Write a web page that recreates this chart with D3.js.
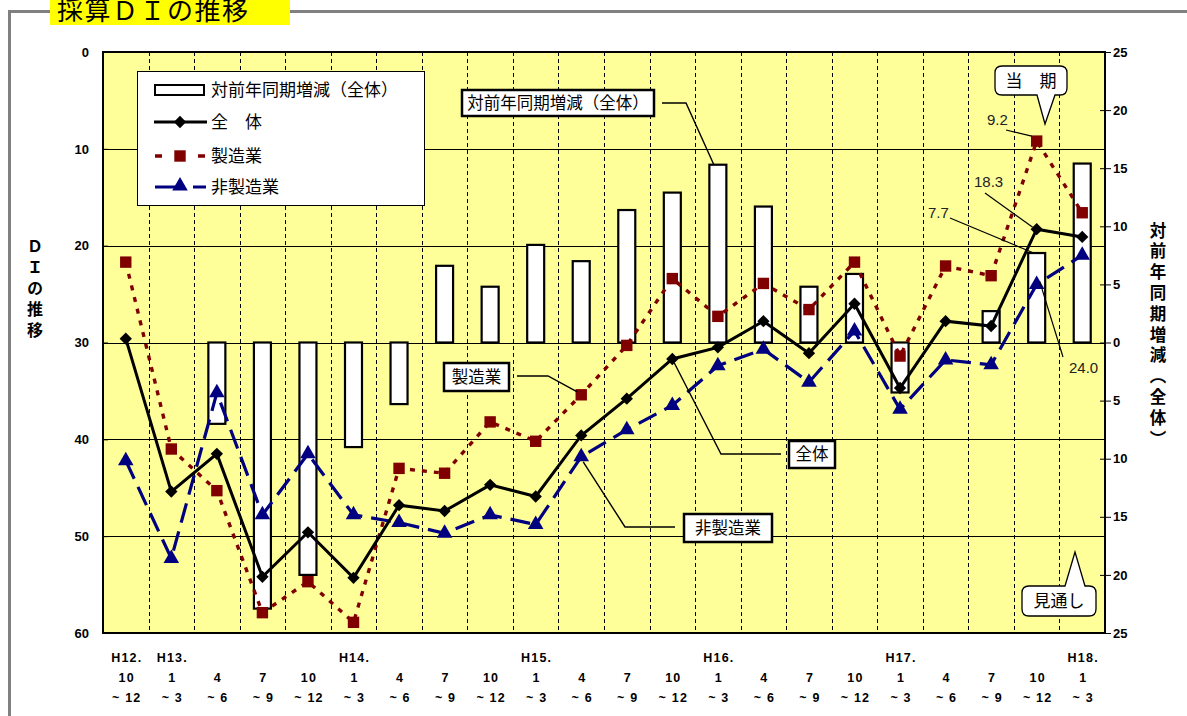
<!DOCTYPE html>
<html>
<head>
<meta charset="utf-8">
<script src="https://cdn.jsdelivr.net/npm/d3@7"></script>
<style>
  body { margin: 0; background: #fff; }
  svg { display: block; }
</style>
</head>
<body>
<svg id="chart" width="1187" height="716"></svg>
<script>
// Quarterly periods (H12.10-12 .. H18.1-3)
const yearLabels  = ["H12.","H13.","","","","H14.","","","","H15.","","","","H16.","","","","H17.","","","","H18."];
const monthLabels = ["10","1","4","7","10","1","4","7","10","1","4","7","10","1","4","7","10","1","4","7","10","1"];
const rangeLabels = ["~ 12","~ 3","~ 6","~ 9","~ 12","~ 3","~ 6","~ 9","~ 12","~ 3","~ 6","~ 9","~ 12","~ 3","~ 6","~ 9","~ 12","~ 3","~ 6","~ 9","~ 12","~ 3"];

// DI series (left axis, inverted scale)
const overall          = [29.6,45.4,41.5,54.2,49.6,54.3,46.8,47.4,44.7,45.9,39.6,35.8,31.7,30.5,27.8,31.1,26.0,34.7,27.8,28.3,18.3,19.1];
const manufacturing    = [21.7,41.0,45.3,57.9,54.7,58.9,43.0,43.5,38.2,40.2,35.4,30.3,23.4,27.3,23.9,26.6,21.7,31.4,22.1,23.1,9.2,16.6];
const nonManufacturing = [42.2,52.3,35.2,47.8,41.5,47.8,48.6,49.7,47.8,48.8,41.8,39.0,36.5,32.4,30.7,34.1,28.8,36.9,31.8,32.3,24.0,21.0];

// Year-on-year change of the overall DI (right axis)
const yoyChange = [null,null,-7.0,-22.9,-20.0,-9.0,-5.3,6.6,4.8,8.4,7.0,11.4,12.9,15.3,11.7,4.8,5.9,-4.3,0.0,2.7,7.7,15.4];

// Axis ticks
const leftTicks  = [0,10,20,30,40,50,60];
const rightTicks = [25,20,15,10,5,0,-5,-10,-15,-20,-25];

const svg = d3.select("#chart");
const plot = { left: 103, right: 1105, top: 52, bottom: 633 };
const latin = "'Liberation Sans', Arial, sans-serif";
const cjk = "'Noto Sans CJK JP', 'Noto Sans', sans-serif";

const idx = d3.range(monthLabels.length);
const x = d3.scaleBand().domain(idx).range([plot.left, plot.right]).padding(0);
const cx = i => x(i) + x.bandwidth() / 2;
const yL = d3.scaleLinear().domain([0, 60]).range([plot.top, plot.bottom]);
const yR = d3.scaleLinear().domain([25, -25]).range([plot.top, plot.bottom]);

// ---- Outer frame and title ----
svg.append("line").attr("x1", 9.5).attr("x2", 9.5).attr("y1", 11).attr("y2", 716)
  .attr("stroke", "#808080").attr("stroke-width", 3);
svg.append("line").attr("x1", 8).attr("x2", 1187).attr("y1", 11.5).attr("y2", 11.5)
  .attr("stroke", "#808080").attr("stroke-width", 3);
svg.append("rect").attr("x", 50).attr("y", 0).attr("width", 240).attr("height", 25).attr("fill", "#ffff00");
svg.append("text").attr("x", 57).attr("y", 20).attr("font-family", cjk).attr("font-size", 26)
  .attr("letter-spacing", 1.5).attr("fill", "#000").text("採算ＤＩの推移");

// ---- Plot background and grid ----
svg.append("rect").attr("x", plot.left).attr("y", plot.top)
  .attr("width", plot.right - plot.left).attr("height", plot.bottom - plot.top).attr("fill", "#ffff99");

svg.append("g").selectAll("line").data(leftTicks.slice(1, -1)).join("line")
  .attr("x1", plot.left).attr("x2", plot.right)
  .attr("y1", d => Math.round(yL(d)) + 0.5).attr("y2", d => Math.round(yL(d)) + 0.5)
  .attr("stroke", "#000").attr("stroke-width", 1);

svg.append("g").selectAll("line").data(idx.slice(1)).join("line")
  .attr("x1", d => Math.round(x(d)) + 0.5).attr("x2", d => Math.round(x(d)) + 0.5)
  .attr("y1", plot.top).attr("y2", plot.bottom)
  .attr("stroke", "#000").attr("stroke-width", 1).attr("stroke-dasharray", "4,3");

// ---- Year-on-year bars ----
const barW = 17;
svg.append("g").selectAll("rect").data(idx.filter(i => yoyChange[i] !== null)).join("rect")
  .attr("x", i => cx(i) - barW / 2)
  .attr("y", i => Math.min(yR(yoyChange[i]), yR(0)))
  .attr("width", barW)
  .attr("height", i => Math.abs(yR(yoyChange[i]) - yR(0)))
  .attr("fill", "#fff").attr("stroke", "#000").attr("stroke-width", 2.2);

// ---- Lines ----
const line = d3.line().defined(d => d[1] !== null).x(d => cx(d[0])).y(d => yL(d[1]));
const series = [
  { data: nonManufacturing, color: "#000080", width: 3.2, dash: "20,9" },
  { data: manufacturing,    color: "#800000", width: 3.4, dash: "5,7" },
  { data: overall,          color: "#000000", width: 3,   dash: null }
];
series.forEach(s => {
  svg.append("path").datum(s.data.map((v, i) => [i, v]))
    .attr("d", line).attr("fill", "none")
    .attr("stroke", s.color).attr("stroke-width", s.width)
    .attr("stroke-dasharray", s.dash);
});

// ---- Markers ----
const diamond = d3.symbol().type(d3.symbolSquare).size(76);
const square = d3.symbol().type(d3.symbolSquare).size(130);
const tri = d3.symbol().type(d3.symbolTriangle).size(105);

svg.append("g").selectAll("path").data(idx).join("path")
  .attr("transform", i => `translate(${cx(i)},${yL(nonManufacturing[i])})`)
  .attr("d", tri).attr("fill", "#000080");
svg.append("g").selectAll("path").data(idx).join("path")
  .attr("transform", i => `translate(${cx(i)},${yL(manufacturing[i])})`)
  .attr("d", square).attr("fill", "#800000");
svg.append("g").selectAll("path").data(idx).join("path")
  .attr("transform", i => `translate(${cx(i)},${yL(overall[i])}) rotate(45)`)
  .attr("d", diamond).attr("fill", "#000");

// ---- Plot border ----
svg.append("rect").attr("x", plot.left).attr("y", plot.top)
  .attr("width", plot.right - plot.left).attr("height", plot.bottom - plot.top)
  .attr("fill", "none").attr("stroke", "#000").attr("stroke-width", 2);

// ---- Axes ----
const leftAxis = svg.append("g").attr("transform", `translate(${plot.left},0)`)
  .call(d3.axisRight(yL).tickValues(leftTicks).tickSize(5).tickFormat(""));
leftAxis.select(".domain").remove();
leftAxis.selectAll("line").attr("stroke", "#000");
svg.append("g").selectAll("text").data(leftTicks).join("text")
  .attr("x", 89).attr("y", d => yL(d)).attr("dy", "0.36em")
  .attr("text-anchor", "end").attr("font-family", latin).attr("font-weight", "bold")
  .attr("font-size", 13).text(d => d);

const rightAxis = svg.append("g").attr("transform", `translate(${plot.right - 5},0)`)
  .call(d3.axisRight(yR).tickValues(rightTicks).tickSize(11).tickFormat(""));
rightAxis.select(".domain").remove();
rightAxis.selectAll("line").attr("stroke", "#000");
svg.append("g").selectAll("text").data(rightTicks).join("text")
  .attr("x", 1113).attr("y", d => yR(d)).attr("dy", "0.36em")
  .attr("font-family", latin).attr("font-weight", "bold")
  .attr("font-size", 13).text(d => Math.abs(d));

// Category labels
const xl = svg.append("g").attr("font-family", latin).attr("font-weight", "bold")
  .attr("font-size", 12.5).attr("text-anchor", "middle").attr("letter-spacing", 1.2);
xl.selectAll(".yr").data(idx).join("text").attr("x", i => cx(i) + 1).attr("y", 662).text(i => yearLabels[i]);
xl.selectAll(".mo").data(idx).join("text").attr("x", i => cx(i) + 1).attr("y", 682).text(i => monthLabels[i]);
xl.selectAll(".rg").data(idx).join("text").attr("x", i => cx(i) + 1).attr("y", 702).text(i => rangeLabels[i]);

// Vertical axis titles (vertical writing mode)
svg.append("text").attr("x", 35).attr("y", 238)
  .style("writing-mode", "vertical-rl").attr("font-family", cjk).attr("font-weight", "bold")
  .attr("font-size", 16).attr("letter-spacing", 5).text("ＤＩの推移");
svg.append("text").attr("x", 1158).attr("y", 222)
  .style("writing-mode", "vertical-rl").attr("font-family", cjk).attr("font-weight", "bold")
  .attr("font-size", 16.5).attr("letter-spacing", 4.3).text("対前年同期増減（全体）");

// ---- Series callouts ----
function labelBox(x0, y0, w, h, text) {
  svg.append("rect").attr("x", x0).attr("y", y0).attr("width", w).attr("height", h)
    .attr("fill", "#fff").attr("stroke", "#000").attr("stroke-width", 2.5);
  svg.append("text").attr("x", x0 + w / 2).attr("y", y0 + h / 2).attr("dy", "0.36em")
    .attr("text-anchor", "middle").attr("font-family", cjk).attr("font-size", 16.5).text(text);
}
function leader(points, w) {
  svg.append("path").attr("d", d3.line()(points)).attr("fill", "none")
    .attr("stroke", "#000").attr("stroke-width", w || 1.4);
}

leader([[662, 103], [686, 103], [cx(13) - 4, yR(yoyChange[13])]]);
labelBox(462, 90, 192, 26, "対前年同期増減（全体）");

leader([[517, 376], [548, 376], [cx(10) - 4, yL(manufacturing[10]) - 3]]);
labelBox(444, 363, 65, 28, "製造業");

leader([[781, 454], [721, 454], [cx(12) + 2, yL(overall[12]) + 4]]);
labelBox(789, 441, 46, 27, "全体");

leader([[675, 527], [625, 527], [cx(10) + 2, yL(nonManufacturing[10]) + 5]]);
labelBox(684, 514, 88, 28, "非製造業");

// ---- Value labels for the latest quarter ----
const vl = svg.append("g").attr("font-family", latin).attr("font-size", 15).attr("fill", "#222");
vl.append("text").attr("x", 987).attr("y", 125).text(manufacturing[20].toFixed(1));
leader([[1006, 130], [cx(20) - 5, yL(manufacturing[20]) - 5]], 1.2);
vl.append("text").attr("x", 974).attr("y", 187).text(overall[20].toFixed(1));
leader([[985, 193], [cx(20) - 4, yL(overall[20]) - 2]], 1.2);
vl.append("text").attr("x", 928).attr("y", 218).text(yoyChange[20].toFixed(1));
leader([[950, 218], [cx(20) - 3, yR(yoyChange[20])]], 1.2);
vl.append("text").attr("x", 1069).attr("y", 373).text(nonManufacturing[20].toFixed(1));
leader([[1063, 357], [cx(20) + 3, yL(nonManufacturing[20]) - 3]], 1.2);

// ---- Speech bubbles ----
function bubble(x0, y0, w, h, r, tip, baseL, baseR, text) {
  const up = tip[1] < y0;
  const p = d3.path();
  p.moveTo(x0 + r, y0);
  if (up) { p.lineTo(baseL, y0); p.lineTo(tip[0], tip[1]); p.lineTo(baseR, y0); }
  p.lineTo(x0 + w - r, y0); p.quadraticCurveTo(x0 + w, y0, x0 + w, y0 + r);
  p.lineTo(x0 + w, y0 + h - r); p.quadraticCurveTo(x0 + w, y0 + h, x0 + w - r, y0 + h);
  if (!up) { p.lineTo(baseR, y0 + h); p.lineTo(tip[0], tip[1]); p.lineTo(baseL, y0 + h); }
  p.lineTo(x0 + r, y0 + h); p.quadraticCurveTo(x0, y0 + h, x0, y0 + h - r);
  p.lineTo(x0, y0 + r); p.quadraticCurveTo(x0, y0, x0 + r, y0);
  p.closePath();
  svg.append("path").attr("d", p.toString()).attr("fill", "#fff").attr("stroke", "#000").attr("stroke-width", 1.3);
  svg.append("text").attr("x", x0 + w / 2).attr("y", y0 + h / 2).attr("dy", "0.36em")
    .attr("text-anchor", "middle").attr("font-family", cjk).attr("font-size", 17).text(text);
}
bubble(995, 66, 72, 29, 7, [1045, 124], 1037, 1055, "当　期");
bubble(1022, 586, 74, 30, 7, [1075, 552], 1065, 1085, "見通し");

// ---- Legend ----
const lg = svg.append("g");
lg.append("rect").attr("x", 137.5).attr("y", 71.5).attr("width", 287).attr("height", 134)
  .attr("fill", "#fff").attr("stroke", "#000").attr("stroke-width", 1);
lg.append("rect").attr("x", 155).attr("y", 85).attr("width", 49).attr("height", 10)
  .attr("fill", "#fff").attr("stroke", "#000").attr("stroke-width", 2);
lg.append("line").attr("x1", 154).attr("x2", 207).attr("y1", 122).attr("y2", 122)
  .attr("stroke", "#000").attr("stroke-width", 3);
lg.append("path").attr("transform", "translate(180,122) rotate(45)").attr("d", diamond).attr("fill", "#000");
lg.append("line").attr("x1", 155).attr("x2", 206).attr("y1", 156).attr("y2", 156)
  .attr("stroke", "#800000").attr("stroke-width", 3.4).attr("stroke-dasharray", "7,36");
lg.append("path").attr("transform", "translate(180,156)").attr("d", square).attr("fill", "#800000");
lg.append("line").attr("x1", 155).attr("x2", 206).attr("y1", 187).attr("y2", 187)
  .attr("stroke", "#000080").attr("stroke-width", 3.2).attr("stroke-dasharray", "22,16");
lg.append("path").attr("transform", "translate(180,186)").attr("d", tri).attr("fill", "#000080");
const legendText = ["対前年同期増減（全体）", "全　体", "製造業", "非製造業"];
lg.selectAll("text").data(legendText).join("text")
  .attr("x", 211).attr("y", (d, i) => [90, 122, 156, 187][i]).attr("dy", "0.36em")
  .attr("font-family", cjk).attr("font-size", 17).text(d => d);
</script>
</body>
</html>
